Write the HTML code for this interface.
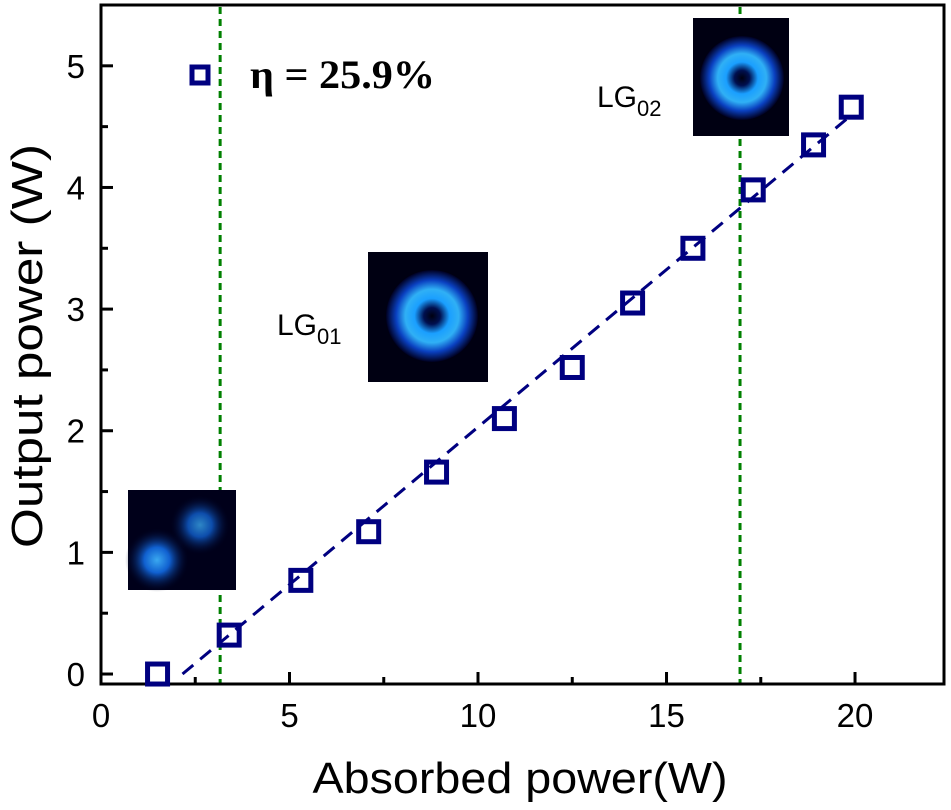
<!DOCTYPE html>
<html><head><meta charset="utf-8"><style>
html,body{margin:0;padding:0;background:#fff;}
svg{display:block;font-family:"Liberation Sans",Arial,sans-serif;}
</style></head><body>
<svg id="chart" width="951" height="810" viewBox="0 0 951 810" xmlns="http://www.w3.org/2000/svg">
<defs>
<radialGradient id="donut" cx="50%" cy="50%" r="50%">
<stop offset="0" stop-color="#000010"/>
<stop offset="0.18" stop-color="#001050"/>
<stop offset="0.38" stop-color="#1a9fff"/>
<stop offset="0.58" stop-color="#30b0f5"/>
<stop offset="0.78" stop-color="#0a40c0"/>
<stop offset="1" stop-color="#000020"/>
</radialGradient>
<radialGradient id="lobe" cx="50%" cy="50%" r="50%">
<stop offset="0" stop-color="#3aa8f0"/>
<stop offset="0.4" stop-color="#1060d0"/>
<stop offset="1" stop-color="#000020" stop-opacity="0"/>
</radialGradient>
</defs>
<g id="frame"></g>
<g id="marks"></g>
<g id="insets">
<rect x="128" y="490" width="108" height="100" fill="#00001a"/>
<circle cx="157" cy="560" r="32" fill="url(#lobe)"/>
<circle cx="200" cy="525" r="30" fill="url(#lobe)" opacity="0.8"/>
<rect x="368" y="252" width="120" height="130" fill="#000012"/>
<circle cx="432" cy="316" r="46" fill="url(#donut)"/>
<rect x="693" y="18" width="96" height="118" fill="#000012"/>
<circle cx="742" cy="78" r="42" fill="url(#donut)"/>
<text x="277" y="335" font-size="30">LG<tspan font-size="22" dy="9">01</tspan></text>
<text x="597" y="107" font-size="30">LG<tspan font-size="22" dy="9">02</tspan></text>
</g>
<rect x="192" y="67" width="16" height="16" fill="#fff" stroke="#000080" stroke-width="5"/>
<text x="250" y="88" font-family="'Liberation Serif',serif" font-weight="bold" font-size="40" textLength="185" lengthAdjust="spacingAndGlyphs">η = 25.9%</text>
<text x="520" y="793" text-anchor="middle" font-size="44" textLength="415" lengthAdjust="spacingAndGlyphs">Absorbed power(W)</text>
<text transform="translate(42,346) rotate(-90)" text-anchor="middle" font-size="44" textLength="404" lengthAdjust="spacingAndGlyphs">Output power (W)</text>
</svg>
<script>
const xValues=[1.5,3.4,5.3,7.1,8.9,10.7,12.5,14.1,15.7,17.3,18.9,19.9];
const yValues=[0.0,0.32,0.77,1.17,1.66,2.1,2.52,3.05,3.5,3.98,4.35,4.66];
const xTicks=[0,5,10,15,20];
const yTicks=[0,1,2,3,4,5];
const fitSlope=0.259;
const fitIntercept=-0.56;
const thresholds=[3.16,16.95];
const L=101,R=944,T=5,B=684,XMIN=0,XMAX=22.36,YMIN=-0.082,YMAX=5.5;
const sx=v=>L+(v-XMIN)/(XMAX-XMIN)*(R-L);
const sy=v=>B-(v-YMIN)/(YMAX-YMIN)*(B-T);
const NS="http://www.w3.org/2000/svg";
function mk(tag,attrs,parent){const e=document.createElementNS(NS,tag);for(const k in attrs)e.setAttribute(k,attrs[k]);parent.appendChild(e);return e;}
const frame=document.getElementById('frame'),marks=document.getElementById('marks');
thresholds.forEach(t=>{
const l=mk('line',{x1:sx(t),x2:sx(t),y1:T+2,y2:B,stroke:'#008000','stroke-width':3,'stroke-dasharray':'7 5'},frame);


});
const box=mk('rect',{x:L,y:T,width:R-L,height:B-T,fill:'none',stroke:'#000','stroke-width':3},frame);


for(let v=0;v<=XMAX;v+=2.5){
const major=v%5===0;
const t=mk('line',{x1:sx(v),x2:sx(v),y1:B,y2:B-(major?12:7),stroke:'#000','stroke-width':3},frame);


}
xTicks.forEach(v=>{
const t=mk('text',{x:sx(v),y:B+43,'text-anchor':'middle','font-size':33},frame);
t.textContent=v;


});
for(let v=0;v<=YMAX;v+=0.5){
const major=Math.abs(v-Math.round(v))<1e-9;
const t=mk('line',{x1:L,x2:L+(major?12:7),y1:sy(v),y2:sy(v),stroke:'#000','stroke-width':3},frame);


}
yTicks.forEach(v=>{
const t=mk('text',{x:L-16,y:sy(v)+12,'text-anchor':'end','font-size':33},frame);
t.textContent=v;


});
const x0=-fitIntercept/fitSlope,x1=xValues[xValues.length-1];
const fit=mk('line',{x1:sx(x0),y1:sy(0),x2:sx(x1),y2:sy(fitSlope*x1+fitIntercept),stroke:'#000080','stroke-width':3,'stroke-dasharray':'14 9'},marks);


xValues.forEach((x,i)=>{
const r=mk('rect',{x:sx(x)-10,y:sy(yValues[i])-10,width:20,height:20,fill:'#fff','fill-opacity':0,stroke:'#000080','stroke-width':5},marks);


});
</script>
</body></html>
